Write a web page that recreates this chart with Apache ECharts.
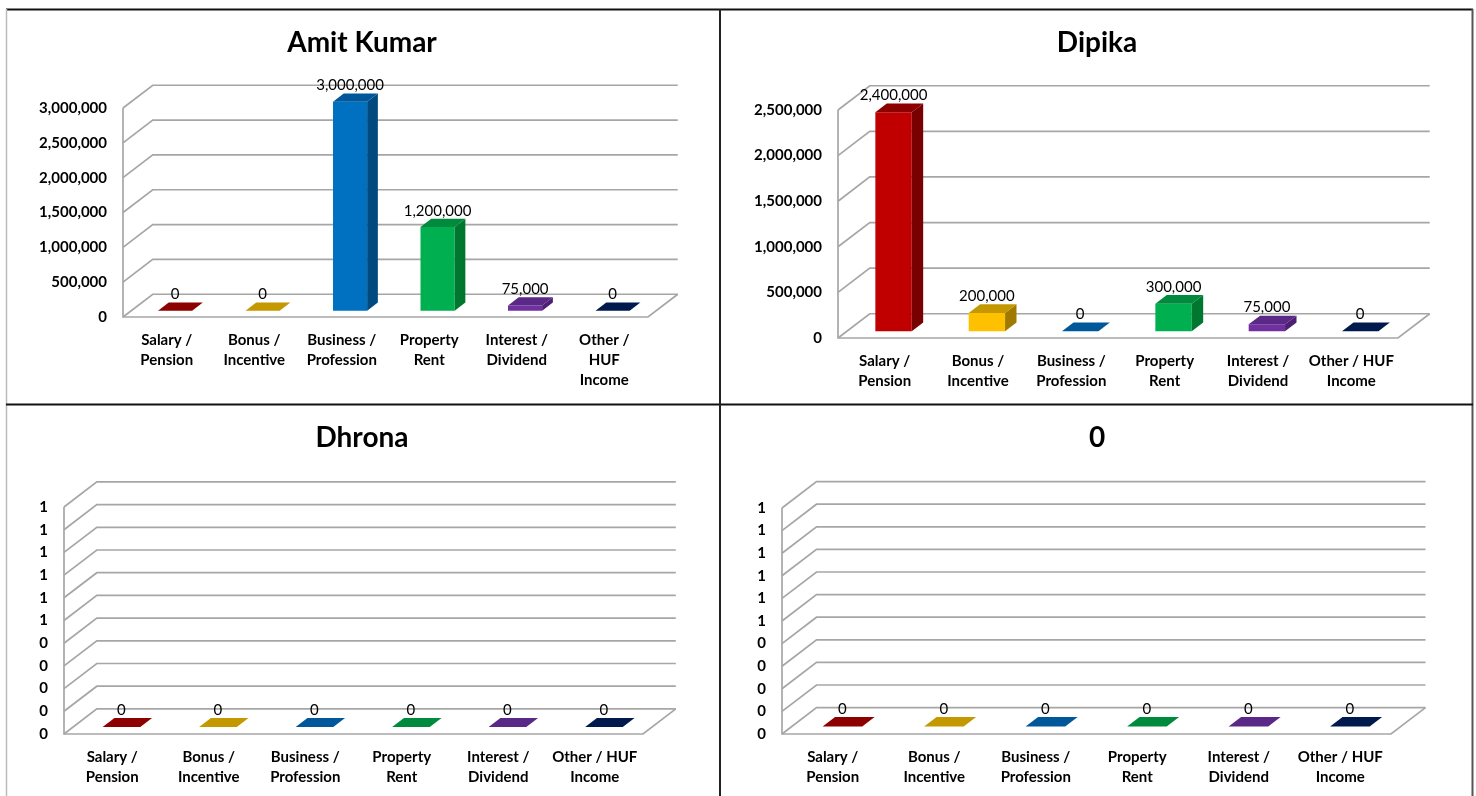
<!DOCTYPE html>
<html>
<head>
<meta charset="utf-8">
<title>Income by Source</title>
<script src="https://cdn.jsdelivr.net/npm/echarts@6/dist/echarts.min.js"></script>
<style>
  html, body { margin: 0; padding: 0; background: #ffffff; }
  #chart { width: 1476px; height: 796px; }
</style>
</head>
<body>
<div id="chart"></div>
<script>
// ---- data ----
const categories = ['Salary / Pension', 'Bonus / Incentive', 'Business / Profession', 'Property Rent', 'Interest / Dividend', 'Other / HUF Income'];
const panelTitles = ['Amit Kumar', 'Dipika', 'Dhrona', '0'];
const amitKumarValues = [0, 0, 3000000, 1200000, 75000, 0];
const dipikaValues = [2400000, 200000, 0, 300000, 75000, 0];
const dhronaValues = [0, 0, 0, 0, 0, 0];
const fourthValues = [0, 0, 0, 0, 0, 0];
const amitTicks = [0, 500000, 1000000, 1500000, 2000000, 2500000, 3000000];
const dipikaTicks = [0, 500000, 1000000, 1500000, 2000000, 2500000];
const unitTicks = [0, 0.1, 0.2, 0.3, 0.4, 0.5, 0.6, 0.7, 0.8, 0.9, 1];

// face colours per category: front, top, side
const frontColors = ['#C00000', '#FFC000', '#0070C0', '#00B050', '#7030A0', '#002060'];
const topColors   = ['#8C0000', '#C49800', '#00589A', '#008A3E', '#5A2886', '#001A4E'];
const sideColors  = ['#780000', '#A07A00', '#004A80', '#00772F', '#4C1F73', '#00163F'];

// ---- 3D look ----
const DEPTH_X = 0.34;   // wall depth, as a share of one category band
const DEPTH_Y = -0.26;
const BAR_HALF = 0.195; // half of the bar front width, share of band
const FRONT = 0.28;     // bar front plane inside the depth
const BACK = 0.64;      // bar back plane inside the depth
const GRID_COLOR = '#A6A6A6';
const FONT = 'Lato, "Open Sans", sans-serif';

function wrapLabel(text, maxChars) {
  // keep a trailing "/" with the word before it
  const tokens = [];
  text.split(' ').forEach(function (w) {
    if (w === '/' && tokens.length) tokens[tokens.length - 1] += ' /';
    else tokens.push(w);
  });
  const lines = [];
  let cur = '';
  tokens.forEach(function (t) {
    if (!cur) cur = t;
    else if ((cur + ' ' + t).length <= maxChars) cur += ' ' + t;
    else { lines.push(cur); cur = t; }
  });
  if (cur) lines.push(cur);
  return lines.join('\n');
}

function wallItem(params, api) {
  const cs = params.coordSys;
  const v = api.value(1);
  const y = api.coord([0, v])[1];
  const bw = api.size([1, 0])[0];
  const dx = DEPTH_X * bw, dy = DEPTH_Y * bw;
  const xl = cs.x, xr = cs.x + cs.width;
  const style = { stroke: GRID_COLOR, lineWidth: 1.7, fill: null };
  const children = [{
    type: 'polyline',
    shape: { points: [[xl, y], [xl + dx, y + dy], [xr + dx, y + dy]] },
    style: style
  }];
  if (v === 0) {
    children.push({
      type: 'polyline',
      shape: { points: [[xl, cs.y], [xl, y], [xr, y], [xr + dx, y + dy]] },
      style: style
    });
  }
  return { type: 'group', children: children };
}

function barItem(params, api) {
  const i = api.value(0);
  const v = api.value(1);
  const base = api.coord([i, 0]);
  const top = api.coord([i, v]);
  const bw = api.size([1, 0])[0];
  const dx = DEPTH_X * bw, dy = DEPTH_Y * bw;
  const hw = BAR_HALF * bw;
  const fx1 = FRONT * dx, fy1 = FRONT * dy, fx2 = BACK * dx, fy2 = BACK * dy;
  const cx = base[0], y0 = base[1], yv = top[1];
  const L = cx - hw, R = cx + hw;
  const children = [];
  if (y0 - yv > 0.5) {
    children.push({
      type: 'polygon',
      shape: { points: [[L + fx1, yv + fy1], [R + fx1, yv + fy1], [R + fx1, y0 + fy1], [L + fx1, y0 + fy1]] },
      style: { fill: frontColors[i] }
    });
    children.push({
      type: 'polygon',
      shape: { points: [[R + fx1, yv + fy1], [R + fx2, yv + fy2], [R + fx2, y0 + fy2], [R + fx1, y0 + fy1]] },
      style: { fill: sideColors[i] }
    });
  }
  children.push({
    type: 'polygon',
    shape: { points: [[L + fx1, yv + fy1], [R + fx1, yv + fy1], [R + fx2, yv + fy2], [L + fx2, yv + fy2]] },
    style: { fill: topColors[i] }
  });
  children.push({
    type: 'text',
    z2: 100,
    style: {
      text: v.toLocaleString('en-US'),
      x: cx + fx1,
      y: yv + fy2 - 8,
      align: 'center',
      verticalAlign: 'middle',
      font: '15px ' + FONT,
      fill: '#000000'
    }
  });
  return { type: 'group', children: children };
}

// grid rectangles = front plane of each plot
const panels = [
  { title: panelTitles[0], titleX: 362, titleY: 43, values: amitKumarValues, ticks: amitTicks, wrap: 9,
    grid: { left: 123, top: 108, width: 525, height: 209 } },
  { title: panelTitles[1], titleX: 1097, titleY: 43, values: dipikaValues, ticks: dipikaTicks, wrap: 11,
    grid: { left: 838, top: 110, width: 560, height: 228 } },
  { title: panelTitles[2], titleX: 362, titleY: 438, values: dhronaValues, ticks: unitTicks, wrap: 11,
    grid: { left: 64, top: 507, width: 579, height: 227 } },
  { title: panelTitles[3], titleX: 1097, titleY: 438, values: fourthValues, ticks: unitTicks, wrap: 11,
    grid: { left: 782, top: 508, width: 609, height: 226 } }
];

const option = {
  animation: false,
  backgroundColor: '#ffffff',
  title: panels.map(function (p) {
    return {
      text: p.title, left: p.titleX, top: p.titleY, padding: 0,
      textAlign: 'center', textVerticalAlign: 'middle',
      textStyle: { fontFamily: FONT, fontSize: 28, fontWeight: 'bold', color: '#000000' }
    };
  }),
  grid: panels.map(function (p) { return Object.assign({ containLabel: false }, p.grid); }),
  xAxis: panels.map(function (p, k) {
    return {
      type: 'category', gridIndex: k, data: categories, boundaryGap: true,
      axisLine: { show: false }, axisTick: { show: false }, splitLine: { show: false },
      axisLabel: {
        interval: 0, margin: 13, fontFamily: FONT, fontSize: 15, fontWeight: 'bold',
        color: '#000000', lineHeight: 20,
        formatter: function (name) { return wrapLabel(name, p.wrap); }
      }
    };
  }),
  yAxis: panels.map(function (p, k) {
    const maxV = p.ticks[p.ticks.length - 1];
    return {
      type: 'value', gridIndex: k, min: 0, max: maxV, interval: p.ticks[1] - p.ticks[0],
      axisLine: { show: false }, axisTick: { show: false }, splitLine: { show: false },
      axisLabel: {
        margin: 16, fontFamily: FONT, fontSize: 15, fontWeight: 'bold', color: '#000000',
        formatter: function (v) { return Math.round(v + 1e-9).toLocaleString('en-US'); }
      }
    };
  }),
  series: [].concat(
    panels.map(function (p, k) {
      return {
        type: 'custom', name: 'walls' + k, xAxisIndex: k, yAxisIndex: k, clip: false, z: 1,
        silent: true, renderItem: wallItem,
        data: p.ticks.map(function (t) { return [0, t]; })
      };
    }),
    panels.map(function (p, k) {
      return {
        type: 'custom', name: p.title, xAxisIndex: k, yAxisIndex: k, clip: false, z: 2,
        renderItem: barItem,
        data: p.values.map(function (v, i) { return [i, v]; })
      };
    })
  ),
  graphic: [
    { type: 'line', shape: { x1: 6, y1: 9.5, x2: 1473, y2: 9.5 }, style: { stroke: '#111111', lineWidth: 2 } },
    { type: 'line', shape: { x1: 6.5, y1: 9, x2: 6.5, y2: 796 }, style: { stroke: '#BBBBBB', lineWidth: 1.5 } },
    { type: 'line', shape: { x1: 1472.5, y1: 9, x2: 1472.5, y2: 796 }, style: { stroke: '#555555', lineWidth: 2 } },
    { type: 'line', shape: { x1: 6, y1: 404.5, x2: 1473, y2: 404.5 }, style: { stroke: '#111111', lineWidth: 2 } },
    { type: 'line', shape: { x1: 720, y1: 9, x2: 720, y2: 796 }, style: { stroke: '#222222', lineWidth: 2 } }
  ]
};

const chart = echarts.init(document.getElementById('chart'), null, { renderer: 'canvas' });
chart.setOption(option);
</script>
</body>
</html>
